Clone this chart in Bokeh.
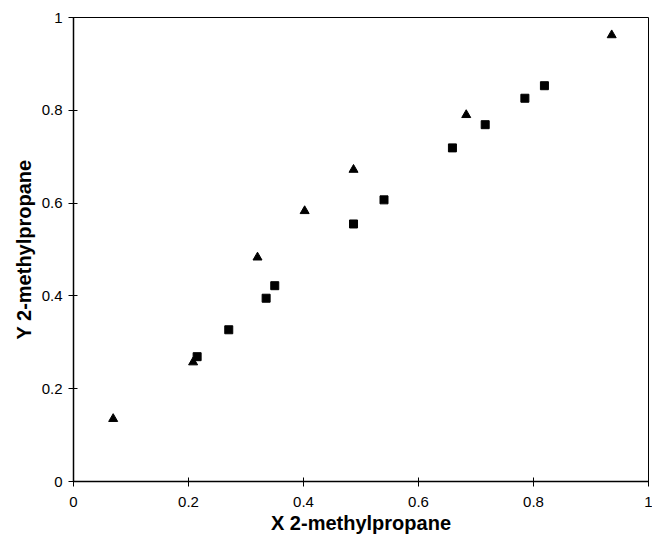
from bokeh.plotting import figure
from bokeh.models import Range1d, FixedTicker, NumeralTickFormatter
from bokeh.embed import file_html
from bokeh.resources import INLINE

# Data (mole fractions of 2-methylpropane)
tri_x = [0.069, 0.208, 0.320, 0.402, 0.487, 0.683, 0.936]
tri_y = [0.135, 0.257, 0.483, 0.583, 0.672, 0.790, 0.962]

sq_x = [0.215, 0.270, 0.335, 0.350, 0.487, 0.540, 0.659, 0.716, 0.785, 0.819]
sq_y = [0.269, 0.327, 0.395, 0.422, 0.555, 0.607, 0.719, 0.769, 0.826, 0.853]

ticks = [0, 0.2, 0.4, 0.6, 0.8, 1.0]

p = figure(width=652, height=537, output_backend="svg", toolbar_location=None,
           x_range=Range1d(0, 1), y_range=Range1d(0, 1),
           min_border_left=73, min_border_top=17, min_border_bottom=56, min_border_right=4)

p.background_fill_color = "white"
p.border_fill_color = "white"
p.outline_line_color = "black"
p.outline_line_width = 1
p.xgrid.visible = False
p.ygrid.visible = False

for ax in (p.xaxis[0], p.yaxis[0]):
    ax.ticker = FixedTicker(ticks=ticks)
    ax.formatter = NumeralTickFormatter(format="0.[0]")
    ax.minor_tick_line_color = None
    ax.axis_line_color = "black"
    ax.axis_line_width = 1.5
    ax.major_tick_line_color = "black"
    ax.major_tick_in = 4
    ax.major_tick_out = 5
    ax.major_label_text_font = "Liberation Sans"
    ax.major_label_text_font_size = "15px"
    ax.major_label_text_color = "black"
    ax.axis_label_text_font = "Liberation Sans"
    ax.axis_label_text_font_style = "bold"
    ax.axis_label_text_font_size = "20px"
    ax.axis_label_text_color = "black"

p.xaxis.axis_label = "X 2-methylpropane"
p.yaxis.axis_label = "Y 2-methylpropane"
p.xaxis.major_label_standoff = 10
p.xaxis.axis_label_standoff = 2
p.yaxis.major_label_standoff = 6
p.yaxis.axis_label_standoff = 4

p.scatter(tri_x, tri_y, marker="triangle", size=9, fill_color="black", line_color="black")
p.scatter(sq_x, sq_y, marker="square", size=8, fill_color="black", line_color="black")

open("out.html", "w").write(file_html(p, INLINE))
